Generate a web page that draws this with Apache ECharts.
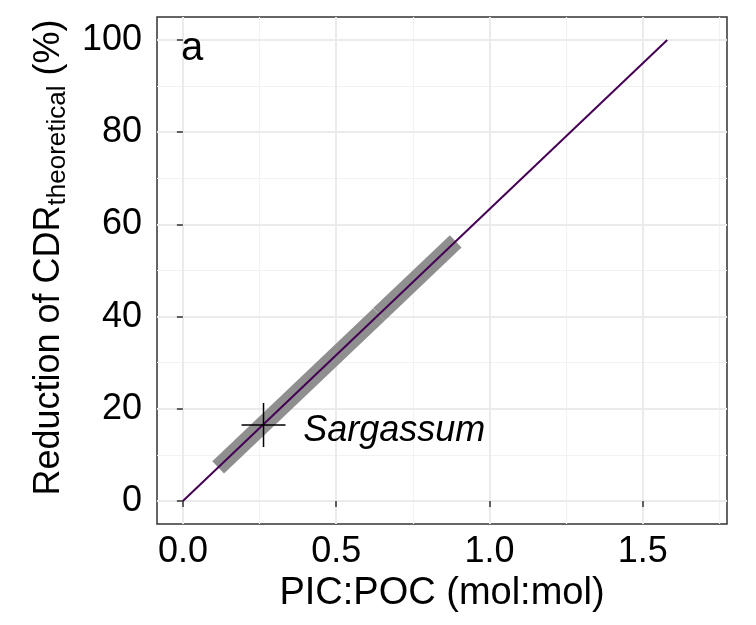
<!DOCTYPE html>
<html>
<head>
<meta charset="utf-8">
<script src="https://cdn.jsdelivr.net/npm/echarts@6/dist/echarts.min.js"></script>
<style>
html, body { margin: 0; padding: 0; background: #fff; }
#chart { width: 756px; height: 625px; }
</style>
</head>
<body>
<div id="chart"></div>
<script>
// axis ticks and grid positions
var xTicks = [0, 0.5, 1.0, 1.5];
var xMinor = [0.25, 0.75, 1.25, 1.75];
var yTicks = [0, 20, 40, 60, 80, 100];
var yMinor = [10, 30, 50, 70, 90];

// theoretical relationship PIC:POC vs reduction of CDR
var lineX = [0, 1.58];
var lineY = [0, 100];

// grey range bands along the line
var bandLowX = [0.115, 0.64];
var bandLowY = [7.3, 40.5];
var bandHighX = [0.64, 0.89];
var bandHighY = [40.5, 56.3];

// Sargassum point
var pointX = [0.263];
var pointY = [16.5];

var font = "'Liberation Sans', Arial, sans-serif";

function pairs(xs, ys) {
    return xs.map(function (x, i) { return [x, ys[i]]; });
}

var minorStyle = { type: "solid", width: 1.2, color: "#f2f2f2" };
var majorStyle = { type: "solid", width: 2, color: "#ebebeb" };
var gridMarks = [];
xMinor.forEach(function (v) { gridMarks.push({ xAxis: v, lineStyle: minorStyle }); });
yMinor.forEach(function (v) { gridMarks.push({ yAxis: v, lineStyle: minorStyle }); });
xTicks.forEach(function (v) { gridMarks.push({ xAxis: v, lineStyle: majorStyle }); });
yTicks.forEach(function (v) { gridMarks.push({ yAxis: v, lineStyle: majorStyle }); });

var chart = echarts.init(document.getElementById("chart"));
chart.setOption({
    animation: false,
    textStyle: { fontFamily: font },
    grid: {
        left: 157,
        top: 17,
        right: 29,
        bottom: 101,
        show: true,
        borderColor: "#333333",
        borderWidth: 1.5,
        backgroundColor: "transparent"
    },
    graphic: [{
        type: "text",
        left: 181,
        top: 29,
        z: 10,
        style: { text: "a", fontSize: 40, fontFamily: font, fill: "#000" }
    }],
    xAxis: {
        type: "value",
        min: -0.0845,
        max: 1.775,
        name: "PIC:POC (mol:mol)",
        nameLocation: "middle",
        nameGap: 47,
        nameTextStyle: { fontSize: 38, color: "#000", fontFamily: font },
        axisLine: { show: false },
        axisTick: { show: true, length: 6, customValues: xTicks, lineStyle: { color: "#333", width: 1.5 } },
        axisLabel: {
            customValues: xTicks,
            fontSize: 36,
            color: "#000",
            margin: 10,
            formatter: function (v) { return v.toFixed(1); }
        },
        splitLine: { show: false }
    },
    yAxis: {
        type: "value",
        min: -5,
        max: 105,
        name: "{a|Reduction of CDR}{b|theoretical}{a| (%)}",
        nameLocation: "middle",
        nameRotate: 90,
        nameGap: 84,
        nameTextStyle: {
            color: "#000",
            fontFamily: font,
            padding: [0, 0, 0, 26],
            rich: {
                a: { fontSize: 36, lineHeight: 44, color: "#000", fontFamily: font },
                b: { fontSize: 26, lineHeight: 26, verticalAlign: "bottom", color: "#000", fontFamily: font }
            }
        },
        axisLine: { show: false },
        axisTick: { show: true, length: 6, customValues: yTicks, lineStyle: { color: "#333", width: 1.5 } },
        axisLabel: { customValues: yTicks, fontSize: 36, color: "#000", margin: 15 },
        splitLine: { show: false }
    },
    series: [
        {
            type: "line",
            data: [],
            silent: true,
            z: 0,
            markLine: {
                silent: true,
                z: 0,
                symbol: ["none", "none"],
                label: { show: false },
                animation: false,
                data: gridMarks
            }
        },
        {
            name: "range low",
            type: "line",
            data: pairs(bandLowX, bandLowY),
            symbol: "none",
            z: 2,
            lineStyle: { color: "#8f8f8f", width: 17, cap: "butt" }
        },
        {
            name: "range high",
            type: "line",
            data: pairs(bandHighX, bandHighY),
            symbol: "none",
            z: 2,
            lineStyle: { color: "#8f8f8f", width: 17, cap: "butt" }
        },
        {
            name: "CDR reduction",
            type: "line",
            data: pairs(lineX, lineY),
            symbol: "none",
            z: 3,
            lineStyle: { color: "#440154", width: 2 }
        },
        {
            name: "Sargassum",
            type: "scatter",
            data: pairs(pointX, pointY),
            symbol: "path://M0,-1L0,1M-1,0L1,0",
            symbolSize: [44, 44],
            z: 4,
            itemStyle: { color: "transparent", borderColor: "#000", borderWidth: 1.5, opacity: 1 },
            label: {
                show: true,
                position: "right",
                distance: 17,
                offset: [0, 6],
                formatter: "Sargassum",
                fontSize: 36,
                fontStyle: "italic",
                color: "#000",
                fontFamily: font
            }
        }
    ]
});
</script>
</body>
</html>
